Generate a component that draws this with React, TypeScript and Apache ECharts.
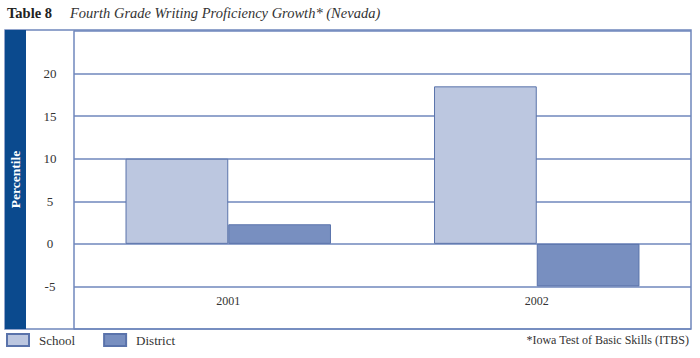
import React, { useEffect, useRef } from "react";
import * as echarts from "echarts";

const categories = ["2001", "2002"];
const schoolValues = [10, 18.5];
const districtValues = [2.3, -5];
const seriesNames = ["School", "District"];

const FONT = "'Liberation Serif', 'Times New Roman', serif";
const LINE = "#6f87bc";
const BAR_BORDER = "#5a73ab";

export default function App() {
  const ref = useRef<HTMLDivElement>(null);
  useEffect(() => {
    document.body.style.margin = "0";
    if (!ref.current) return;
    const chart = echarts.init(ref.current, undefined, { renderer: "svg" });
    chart.setOption({
      animation: false,
      backgroundColor: "#ffffff",
      textStyle: { fontFamily: FONT },
      grid: { left: 74, right: 9, top: 31, bottom: 29, show: false },
      legend: {
        data: seriesNames,
        left: 6,
        top: 333,
        padding: 0,
        icon: "rect",
        itemWidth: 22,
        itemHeight: 12,
        itemGap: 28,
        textStyle: { fontFamily: FONT, fontSize: 13, color: "#333", padding: [0, 0, 0, 5] },
      },
      xAxis: {
        type: "category",
        data: categories,
        axisLine: { show: false },
        axisTick: { show: false },
        axisLabel: { inside: true, margin: 22, fontFamily: FONT, fontSize: 12, color: "#333" },
        splitLine: { show: false },
      },
      yAxis: {
        type: "value",
        min: -10,
        max: 25,
        interval: 5,
        axisLine: { show: true, lineStyle: { color: LINE, width: 1.5 } },
        axisTick: { show: false },
        axisLabel: {
          showMinLabel: false,
          showMaxLabel: false,
          align: "center",
          margin: 24,
          fontFamily: FONT,
          fontSize: 13,
          color: "#333",
        },
        splitLine: { show: true, lineStyle: { color: LINE, width: 1.5 } },
      },
      series: [
        {
          name: seriesNames[0],
          type: "bar",
          data: schoolValues,
          barWidth: "33.3%",
          barGap: "0%",
          barCategoryGap: "33.3%",
          itemStyle: { color: "#bcc7e0", borderColor: BAR_BORDER, borderWidth: 1 },
        },
        {
          name: seriesNames[1],
          type: "bar",
          data: districtValues,
          barWidth: "33.3%",
          barGap: "0%",
          itemStyle: { color: "#788fc0", borderColor: BAR_BORDER, borderWidth: 1 },
        },
      ],
      graphic: [
        {
          type: "rect",
          shape: { x: 5, y: 30, width: 686, height: 299 },
          style: { fill: "none", stroke: LINE, lineWidth: 1.5 },
          z: 10,
          silent: true,
        },
        {
          type: "rect",
          shape: { x: 5, y: 30, width: 21, height: 299 },
          style: { fill: "#0b4a8e" },
          z: 11,
          silent: true,
        },
        {
          type: "text",
          x: 15.5,
          y: 179.5,
          rotation: Math.PI / 2,
          style: {
            text: "Percentile",
            fill: "#ffffff",
            font: `bold 13.5px ${FONT}`,
            textAlign: "center",
            textVerticalAlign: "middle",
          },
          z: 12,
          silent: true,
        },
        {
          type: "text",
          x: 7,
          y: 13,
          style: {
            text: "Table 8",
            fill: "#222",
            font: `bold 14.5px ${FONT}`,
            textAlign: "left",
            textVerticalAlign: "middle",
          },
        },
        {
          type: "text",
          x: 70,
          y: 13,
          style: {
            text: "Fourth Grade Writing Proficiency Growth* (Nevada)",
            fill: "#333",
            font: `italic 14.5px ${FONT}`,
            textAlign: "left",
            textVerticalAlign: "middle",
          },
        },
        {
          type: "text",
          x: 689,
          y: 340,
          style: {
            text: "*Iowa Test of Basic Skills (ITBS)",
            fill: "#333",
            font: `12px ${FONT}`,
            textAlign: "right",
            textVerticalAlign: "middle",
          },
        },
      ],
    });
    return () => chart.dispose();
  }, []);
  return <div ref={ref} style={{ width: 700, height: 358 }} />;
}
